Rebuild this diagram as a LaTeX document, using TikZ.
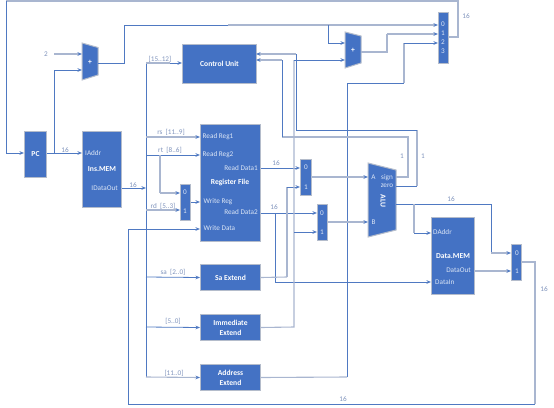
\documentclass[tikz,border=0pt]{standalone}
\usepackage{fontspec}
\setmainfont{Carlito}
\usetikzlibrary{arrows.meta}
\definecolor{blk}{HTML}{4472C4}
\definecolor{edgec}{HTML}{B4BCCB}
\definecolor{wirec}{HTML}{4F79C2}
\definecolor{palec}{HTML}{A9B6D0}
\definecolor{labc}{HTML}{7F93BC}
\definecolor{portc}{HTML}{DCE6F6}
\tikzset{
  x=1pt,y=-1pt,
  blockbox/.style={draw=edgec,line width=1pt,fill=blk,text=white,font=\fontsize{7.6}{9.8}\selectfont\bfseries,align=center,inner sep=0pt,anchor=north west},
  blockshape/.style={draw=edgec,line width=1pt,fill=blk},
  blocktext/.style={text=white,font=\fontsize{7.6}{9.8}\selectfont\bfseries,align=center,inner sep=0pt},
  porttext/.style={text=portc,font=\fontsize{7.2}{8}\selectfont,inner sep=0pt},
  wirelabel/.style={text=labc,font=\fontsize{7.2}{8}\selectfont,inner sep=0pt},
  wire/.style={draw=wirec,line width=0.8pt},
  wirepale/.style={draw=palec,line width=1.1pt},
  tip/.style={-{Stealth[length=4.6pt,width=3.8pt,color=wirec,fill=wirec,line width=0pt]}}
}
\newcommand{\blockat}[6]{\node[blockbox,minimum width=#3pt,minimum height=#4pt] (#5) at (#1,#2) {#6};}
\begin{document}
\begin{tikzpicture}
\useasboundingbox (0,0) rectangle (554,407);
% blocks
\blockat{24}{131}{22}{46}{pc}{PC}
\blockat{82}{131}{39}{76}{imem}{}
\blockat{182}{44}{74}{39}{cu}{Control Unit}
\blockat{200}{124}{60}{117}{rf}{}
\blockat{180}{184}{10}{36}{muxw}{}
\blockat{300}{159}{11}{36}{muxa}{}
\blockat{317}{204}{10}{36}{muxb}{}
\blockat{438}{12}{10}{51}{muxpc}{}
\blockat{431}{217}{43}{77}{dmem}{}
\blockat{511}{244}{10}{36}{muxo}{}
\blockat{200}{264}{60}{26}{sax}{Sa Extend}
\blockat{200}{314}{60}{26}{imx}{Immediate\\Extend}
\blockat{200}{364}{60}{26}{adx}{Address\\Extend}
\draw[blockshape] (82,43) -- (98,47.5) -- (98,75) -- (82,80) -- cycle;
\node[blocktext] (add1) at (90,62) {+};
\draw[blockshape] (345,32) -- (361,36) -- (361,63) -- (345,68) -- cycle;
\node[blocktext] (add2) at (353,50) {+};
\draw[blockshape] (368,163) -- (396,170) -- (396,230) -- (368,237) -- cycle;
\node[blocktext,rotate=-90] (alut) at (383,201) {ALU};
% block texts
\node[blocktext] (imemt) at (102,169) {Ins.MEM};
\node[blocktext] (rft) at (230,182) {Register File};
\node[blocktext] (dmemt) at (453,256) {Data.MEM};
% ports
\node[porttext,anchor=west] (pia) at (85,153.5) {IAddr};
\node[porttext,anchor=east] (pio) at (118,188) {IDataOut};
\node[porttext,anchor=west] (pr1) at (202.5,136.5) {Read Reg1};
\node[porttext,anchor=west] (pr2) at (202.5,155) {Read Reg2};
\node[porttext,anchor=west] (pwr) at (203.5,202) {Write Reg};
\node[porttext,anchor=west] (pwd) at (203.5,228.5) {Write Data};
\node[porttext,anchor=east] (prd1) at (258,168.5) {Read Data1};
\node[porttext,anchor=east] (prd2) at (258,212.5) {Read Data2};
\node[porttext] (pa) at (373.5,177) {A};
\node[porttext] (pb) at (373.5,222) {B};
\node[porttext] (psign) at (387,178) {sign};
\node[porttext] (pzero) at (387,186) {zero};
\node[porttext,anchor=west] (pda) at (433,232.5) {DAddr};
\node[porttext,anchor=west] (pdi) at (435,282.5) {DataIn};
\node[porttext,anchor=east] (pdo) at (471,270.5) {DataOut};
\node[porttext] (mw0) at (185,192.5) {0};
\node[porttext] (mw1) at (185,211) {1};
\node[porttext] (ma0) at (306,167.5) {0};
\node[porttext] (ma1) at (306,187) {1};
\node[porttext] (mb0) at (322,213.5) {0};
\node[porttext] (mb1) at (322,232) {1};
\node[porttext] (mp0) at (443,24.5) {0};
\node[porttext] (mp1) at (443,33.5) {1};
\node[porttext] (mp2) at (443,42.5) {2};
\node[porttext] (mp3) at (443,51.5) {3};
\node[porttext] (mo0) at (517,253.5) {0};
\node[porttext] (mo1) at (517,271.5) {1};
% named connector ends
\coordinate (two) at (54,54);
\coordinate (jpc) at (54,153);
\coordinate (add1a) at (82,54);
\coordinate (add1b) at (82,70);
\coordinate (add1o) at (98,63);
\coordinate (add2a) at (345,43);
\coordinate (add2b) at (345,60);
\coordinate (add2o) at (361,52);
\coordinate (jn) at (328,25);
\coordinate (ji) at (294,232);
\coordinate (bus) at (146,188);
\coordinate (jrt) at (160,155);
\coordinate (jrd2) at (275,213);
\coordinate (jalu) at (414,204);
\coordinate (cu1) at (256,54);
\coordinate (cu2) at (256,60);
% connectors
\draw[wirepale] (muxpc.east|-0,37) -- (458,37) -- (458,1) -- (6,1);
\draw[wire,tip] (6,1) -- (6,153) -- (pc.west|-0,153);
\draw[wirepale,tip] (two) -- (add1a);
\draw[wire,tip] (jpc) |- (add1b);
\draw[wire,tip] (pc.east|-0,153) -- (imem.west|-0,153);
\draw[wire] (add1o) -- (124,63) -- (124,25) -- (228,25);
\draw[wirepale,tip] (228,25) -- (jn) -- (muxpc.west|-0,25);
\draw[wire,tip] (jn) |- (add2a);
\draw[wirepale] (add2o) -- (387,52) -- (387,34);
\draw[wirepale,tip] (387,34) -- (muxpc.west|-0,34);
\draw[wire] (347,377) -- (347,83) -- (404,83);
\draw[wirepale] (404,83) -- (404,43);
\draw[wire,tip] (404,43) -- (muxpc.west|-0,43);
% control unit inputs
\draw[wire] (396,186) -- (417,186);
\draw[wirepale] (417,186) -- (417,130);
\draw[wire] (417,130) -- (296,130) -- (296,54);
\draw[wirepale,tip] (296,54) -- (cu1);
\draw[wirepale] (396,177) -- (408,177) -- (408,137) -- (282,137);
\draw[wire] (282,137) -- (282,60);
\draw[wirepale,tip] (282,60) -- (cu2);
% instruction bus
\draw[wire,tip] (pio.east-|imem.east) -- (bus);
\draw[wire] (146,63) -- (146,377);
\draw[wirepale] (146,63) -- (170,63);
\draw[wire,tip] (170,63) -- (cu.west|-0,63);
\draw[wirepale,tip] (146,137) -- (rf.west|-0,137);
\draw[wire,tip] (146,155) -- (rf.west|-0,155);
\draw[wirepale] (jrt) -- (160,193);
\draw[wirepale,tip] (160,193) -- (muxw.west|-0,193);
\draw[wirepale,tip] (146,210) -- (muxw.west|-0,210);
\draw[wire,tip] (muxw.east|-0,202) -- (rf.west|-0,202);
\draw[wire,tip] (146,277) -- (sax.west);
\draw[wire,tip] (146,327) -- (imx.west);
\draw[wirepale,tip] (146,377) -- (adx.west);
% read data
\draw[wire,tip] (rf.east|-0,168) -- (muxa.west|-0,168);
\draw[wirepale,tip] (muxa.east|-0,177) -- (368,177);
\draw[wire,tip] (rf.east|-0,213) -- (muxb.west|-0,213);
\draw[wire,tip] (jrd2) -- (275,282) -- (dmem.west|-0,282);
\draw[wirepale] (sax.east) -- (287,277);
\draw[wirepale] (287,277) -- (287,187);
\draw[wire,tip] (287,187) -- (muxa.west|-0,187);
\draw[wirepale] (imx.east) -- (294,327) -- (294,60);
\draw[wire,tip] (294,60) -- (add2b);
\draw[wire,tip] (ji) -- (muxb.west|-0,232);
\draw[wirepale] (adx.east) -- (347,377);
\draw[wirepale,tip] (muxb.east|-0,222) -- (368,222);
% alu out
\draw[wire] (396,204) -- (491,204) -- (491,253);
\draw[wirepale,tip] (491,253) -- (muxo.west|-0,253);
\draw[wirepale] (jalu) -- (414,233);
\draw[wire,tip] (414,233) -- (dmem.west|-0,233);
\draw[wirepale,tip] (dmem.east|-0,271) -- (muxo.west|-0,271);
% write back
\draw[wirepale] (muxo.east|-0,262) -- (535,262) -- (535,404);
\draw[wire,tip] (535,404) -- (128,404) -- (128,229) -- (rf.west|-0,229);
% wire labels
\node[wirelabel] (l2) at (46,54) {2};
\node[wirelabel] (l16a) at (65,150.5) {16};
\node[wirelabel] (l16b) at (133,185) {16};
\node[wirelabel] (l16c) at (276,163) {16};
\node[wirelabel] (l16d) at (274,207) {16};
\node[wirelabel] (l16e) at (466,16.5) {16};
\node[wirelabel] (l16f) at (451,199) {16};
\node[wirelabel] (l16g) at (544,289.5) {16};
\node[wirelabel] (l16h) at (343,399) {16};
\node[wirelabel] (l1a) at (402,156.5) {1};
\node[wirelabel] (l1b) at (423,156.5) {1};
\node[wirelabel] (b1) at (160,59.5) {[15..12]};
\node[wirelabel] (b2) at (171,132.5) {rs\ \ [11..9]};
\node[wirelabel] (b3) at (170,150.5) {rt\ \ [8..6]};
\node[wirelabel] (b4) at (163,206.5) {rd\ \ [5..3]};
\node[wirelabel] (b5) at (173,272.5) {sa\ \ [2..0]};
\node[wirelabel] (b6) at (173,321.5) {[5..0]};
\node[wirelabel] (b7) at (174,373.5) {[11..0]};
\end{tikzpicture}
\end{document}
